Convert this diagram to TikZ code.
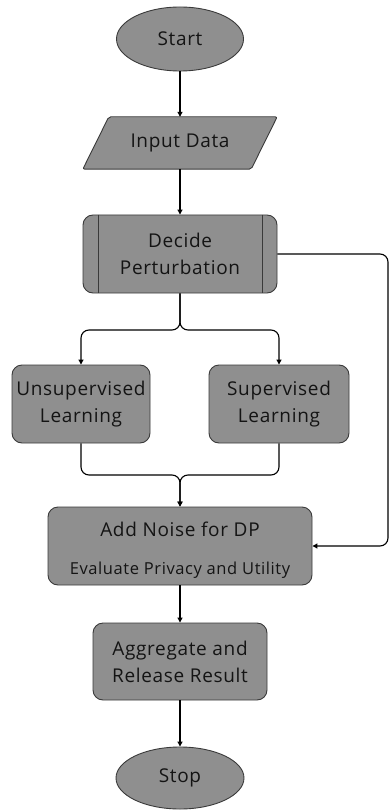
\documentclass[tikz,border=0pt]{standalone}
\usepackage{fontspec}
\setmainfont{Open Sans}[LetterSpace=3.5]
\usetikzlibrary{shapes.geometric,arrows.meta}
\definecolor{boxfill}{HTML}{8F8F8F}
\definecolor{boxline}{HTML}{3A3A3A}
\definecolor{ink}{HTML}{141414}
\tikzset{
  base/.style={fill=boxfill, draw=boxline, line width=0.9pt, text=ink, align=center,
               inner sep=0pt, font=\fontsize{19}{27}\selectfont},
  terminal/.style={base, ellipse},
  procbox/.style={base, rectangle, rounded corners=10pt},
  iobox/.style={rectangle, inner sep=0pt, text=ink, align=center, font=\fontsize{19}{27}\selectfont},
  flow/.style={draw=black, line width=1.1pt, -{Triangle[length=5pt,width=5pt]}},
  joint/.style={flow, rounded corners=8pt},
}
\begin{document}
\begin{tikzpicture}[x=1pt,y=-1pt]
\useasboundingbox (0,0) rectangle (390,810);

% terminals and steps
\node[terminal, minimum width=127pt, minimum height=64pt] (start) at (180,39) {Start};
\node[iobox, minimum width=194pt, minimum height=52pt] (input) at (180,143) {};
\draw[fill=boxfill, draw=boxline, line width=0.9pt, rounded corners=2pt]
  (input.south west) -- ([xshift=26pt]input.north west) -- (input.north east)
  -- ([xshift=-26pt]input.south east) -- cycle;
\node[iobox] at (input.center) {Input Data};

\node[procbox, minimum width=194pt, minimum height=78pt] (decide) at (180,254) {Decide\\Perturbation};
\draw[boxline, line width=0.9pt]
  ([xshift=16pt]decide.north west) -- ([xshift=16pt]decide.south west)
  ([xshift=-15pt]decide.north east) -- ([xshift=-15pt]decide.south east);

\node[procbox, minimum width=138pt, minimum height=78pt] (unsup) at (81,404) {Unsupervised\\Learning};
\node[procbox, minimum width=140pt, minimum height=78pt] (sup) at (279,404) {Supervised\\Learning};

\node[procbox, minimum width=264pt, minimum height=78pt] (noise) at (180,546) {};
\node[iobox] (noisetext) at ([yshift=-4pt]noise.center)
  {\fontsize{19}{20}\selectfont Add Noise for DP\\[11pt]\fontsize{16.5}{18}\selectfont Evaluate Privacy and Utility};

\node[procbox, minimum width=174pt, minimum height=77pt] (agg) at (180,661.5) {Aggregate and\\Release Result};
\node[terminal, minimum width=128pt, minimum height=62pt] (stop) at (180,778) {Stop};

% junction points
\coordinate (fork) at (180,330);
\coordinate (merge) at (180,475);
\coordinate (loopA) at (388,254);
\coordinate (loopB) at (388,546);

% connectors
\draw[flow] (start) -- (input);
\draw[flow] (input) -- (decide);
\draw[joint] (decide.south) -- (fork) -| (unsup.north);
\draw[joint] (decide.south) -- (fork) -| (sup.north);
\draw[joint] (unsup.south) |- (merge) -- (noise.north);
\draw[joint] (sup.south) |- (merge) -- (noise.north);
\draw[joint] (decide.east) -- (loopA) -- (loopB) -- (noise.east);
\draw[flow] (noise) -- (agg);
\draw[flow] (agg) -- (stop);
\end{tikzpicture}
\end{document}
